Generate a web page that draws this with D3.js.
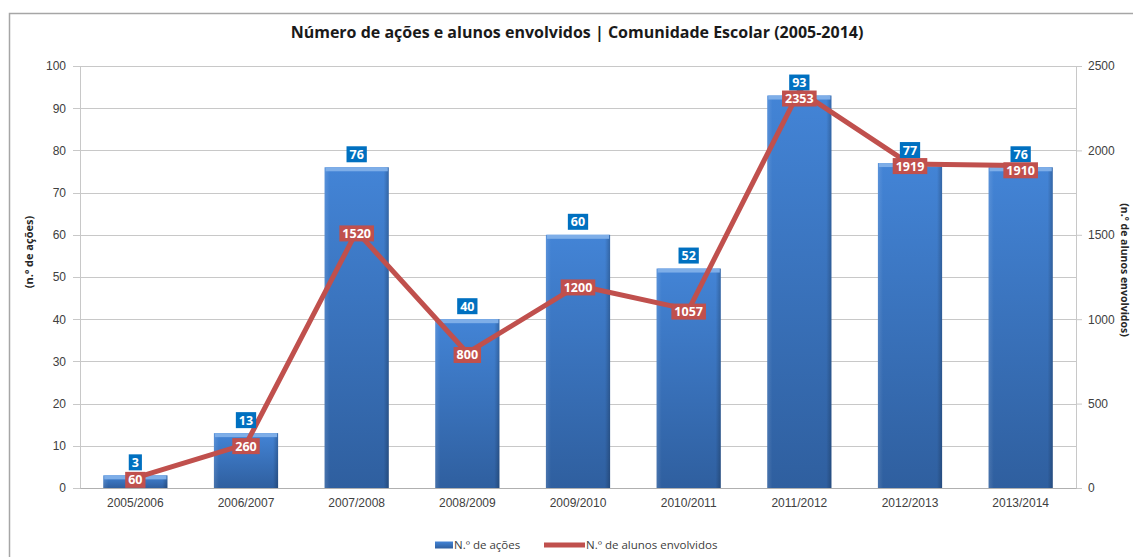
<!DOCTYPE html>
<html>
<head>
<meta charset="utf-8">
<script src="https://cdn.jsdelivr.net/npm/d3@7"></script>
<style>
  html, body { margin: 0; padding: 0; background: #fff; }
  svg { display: block; font-family: "Open Sans", Lato, sans-serif; }
</style>
</head>
<body>
<div id="chart"></div>
<script>
const categories = ['2005/2006', '2006/2007', '2007/2008', '2008/2009', '2009/2010',
                    '2010/2011', '2011/2012', '2012/2013', '2013/2014'];
const actions = [3, 13, 76, 40, 60, 52, 93, 77, 76];
const students = [60, 260, 1520, 800, 1200, 1057, 2353, 1919, 1910];
const leftTicks = [0, 10, 20, 30, 40, 50, 60, 70, 80, 90, 100];
const rightTicks = [0, 500, 1000, 1500, 2000, 2500];

const width = 1133, height = 557;
const margin = { top: 66, right: 57, bottom: 69, left: 80 };
const innerW = width - margin.left - margin.right;
const innerH = height - margin.top - margin.bottom;

const svg = d3.select('#chart').append('svg')
  .attr('width', width)
  .attr('height', height);

// gradients for the bevelled bars
const defs = svg.append('defs');
const vg = defs.append('linearGradient').attr('id', 'barV')
  .attr('x1', 0).attr('y1', 0).attr('x2', 0).attr('y2', 1);
vg.append('stop').attr('offset', '0%').attr('stop-color', '#4384d6');
vg.append('stop').attr('offset', '100%').attr('stop-color', '#2f5f9f');
const hg = defs.append('linearGradient').attr('id', 'barH')
  .attr('x1', 0).attr('y1', 0).attr('x2', 1).attr('y2', 0);
hg.append('stop').attr('offset', '0%').attr('stop-color', '#ffffff').attr('stop-opacity', 0.12);
hg.append('stop').attr('offset', '8%').attr('stop-color', '#ffffff').attr('stop-opacity', 0);
hg.append('stop').attr('offset', '92%').attr('stop-color', '#000000').attr('stop-opacity', 0);
hg.append('stop').attr('offset', '100%').attr('stop-color', '#000000').attr('stop-opacity', 0.22);

// outer frame
svg.append('path')
  .attr('d', `M9.5,${height} V13.5 H${width}`)
  .attr('fill', 'none')
  .attr('stroke', '#a6a6a6')
  .attr('stroke-width', 1.5);

const g = svg.append('g').attr('transform', `translate(${margin.left},${margin.top})`);

const x = d3.scaleBand().domain(categories).range([0, innerW]).paddingInner(0.42).paddingOuter(0.21);
const yL = d3.scaleLinear().domain([0, 100]).range([innerH, 0]);
const yR = d3.scaleLinear().domain([0, 2500]).range([innerH, 0]);

// gridlines
g.append('g')
  .selectAll('line')
  .data(leftTicks)
  .join('line')
  .attr('x1', -7).attr('x2', innerW)
  .attr('y1', d => Math.round(yL(d)) + 0.5).attr('y2', d => Math.round(yL(d)) + 0.5)
  .attr('stroke', '#c8c8c8');

// left axis
const axL = g.append('g')
  .call(d3.axisLeft(yL).tickValues(leftTicks).tickSize(0).tickPadding(14));
axL.select('.domain').attr('stroke', '#c8c8c8');
axL.selectAll('text').attr('font-size', 12).attr('fill', '#404040');

// right axis
const axR = g.append('g')
  .attr('transform', `translate(${innerW},0)`)
  .call(d3.axisRight(yR).tickValues(rightTicks).tickFormat(d3.format('d'))
    .tickSize(6).tickSizeOuter(0).tickPadding(6));
axR.select('.domain').attr('stroke', '#c8c8c8');
axR.selectAll('.tick line').attr('stroke', '#c8c8c8');
axR.selectAll('text').attr('font-size', 12).attr('fill', '#404040');

// bottom axis
const axB = g.append('g')
  .attr('transform', `translate(0,${innerH})`)
  .call(d3.axisBottom(x).tickSize(0).tickPadding(10));
axB.select('.domain').attr('stroke', '#b0b0b0');
axB.selectAll('text').attr('font-size', 12).attr('fill', '#404040');

// bars
const bars = g.append('g').selectAll('g')
  .data(actions)
  .join('g')
  .attr('transform', (d, i) => `translate(${x(categories[i])},${yL(d)})`);
bars.append('rect')
  .attr('width', x.bandwidth())
  .attr('height', d => innerH - yL(d))
  .attr('fill', 'url(#barV)');
bars.append('rect')
  .attr('width', x.bandwidth())
  .attr('height', d => innerH - yL(d))
  .attr('fill', 'url(#barH)');
bars.append('rect')
  .attr('x', 1)
  .attr('width', x.bandwidth() - 2)
  .attr('height', d => Math.min(4, innerH - yL(d)))
  .attr('fill', '#7eaee8');

// line
const cx = (d, i) => x(categories[i]) + x.bandwidth() / 2;
g.append('path')
  .datum(students)
  .attr('fill', 'none')
  .attr('stroke', '#c0504d')
  .attr('stroke-width', 5)
  .attr('stroke-linejoin', 'round')
  .attr('d', d3.line().x(cx).y(d => yR(d)));

// label helper
function label(sel, fill) {
  sel.each(function () {
    const t = d3.select(this).select('text');
    const bb = t.node().getBBox();
    d3.select(this).insert('rect', 'text')
      .attr('x', bb.x - 3).attr('y', -8)
      .attr('width', bb.width + 6).attr('height', 16)
      .attr('fill', fill);
  });
}

const blueY = (d) => yL(d) - 13;

const blue = g.append('g').selectAll('g')
  .data(actions)
  .join('g')
  .attr('transform', (d, i) => `translate(${cx(d, i)},${blueY(d)})`);
blue.append('text')
  .attr('text-anchor', 'middle')
  .attr('dy', '0.36em')
  .attr('font-size', 12.5)
  .attr('font-weight', 'bold')
  .attr('fill', '#fff')
  .text(d => d);
label(blue, '#0070c0');

// red labels sit on the point, pushed down when they would hit the blue label
const red = g.append('g').selectAll('g')
  .data(students)
  .join('g')
  .attr('transform', (d, i) => {
    let ly = yR(d) + 2;
    const by = blueY(actions[i]);
    if (Math.abs(ly - by) < 16) ly = by + 16;
    return `translate(${cx(d, i)},${ly})`;
  });
red.append('text')
  .attr('text-anchor', 'middle')
  .attr('dy', '0.36em')
  .attr('font-size', 12.5)
  .attr('font-weight', 'bold')
  .attr('fill', '#fff')
  .text(d => d);
label(red, '#c0504d');

// title
svg.append('text')
  .attr('x', 577).attr('y', 38)
  .attr('text-anchor', 'middle')
  .attr('font-size', 16)
  .attr('font-weight', 'bold')
  .attr('fill', '#1a1a1a')
  .text('Número de ações e alunos envolvidos | Comunidade Escolar (2005-2014)');

// axis titles
svg.append('text')
  .attr('transform', 'translate(33,252) rotate(-90)')
  .attr('text-anchor', 'middle')
  .attr('font-size', 11)
  .attr('font-weight', 'bold')
  .attr('fill', '#262626')
  .text('(n.º de ações)');

svg.append('text')
  .attr('transform', 'translate(1121,270) rotate(90)')
  .attr('text-anchor', 'middle')
  .attr('font-size', 10.5)
  .attr('font-weight', 'bold')
  .attr('fill', '#262626')
  .text('(n.º de alunos envolvidos)');

// legend
const legend = svg.append('g').attr('transform', 'translate(435,545)');
legend.append('rect')
  .attr('x', 0).attr('y', -3.5).attr('width', 18).attr('height', 7)
  .attr('fill', 'url(#barV)');
legend.append('text')
  .attr('x', 19).attr('y', 0).attr('dy', '0.36em')
  .attr('font-size', 11.5).attr('fill', '#404040')
  .text('N.º de ações');
legend.append('line')
  .attr('x1', 109).attr('x2', 150).attr('y1', 0).attr('y2', 0)
  .attr('stroke', '#c0504d').attr('stroke-width', 5);
legend.append('text')
  .attr('x', 151).attr('y', 0).attr('dy', '0.36em')
  .attr('font-size', 11.5).attr('fill', '#404040')
  .text('N.º de alunos envolvidos');
</script>
</body>
</html>
